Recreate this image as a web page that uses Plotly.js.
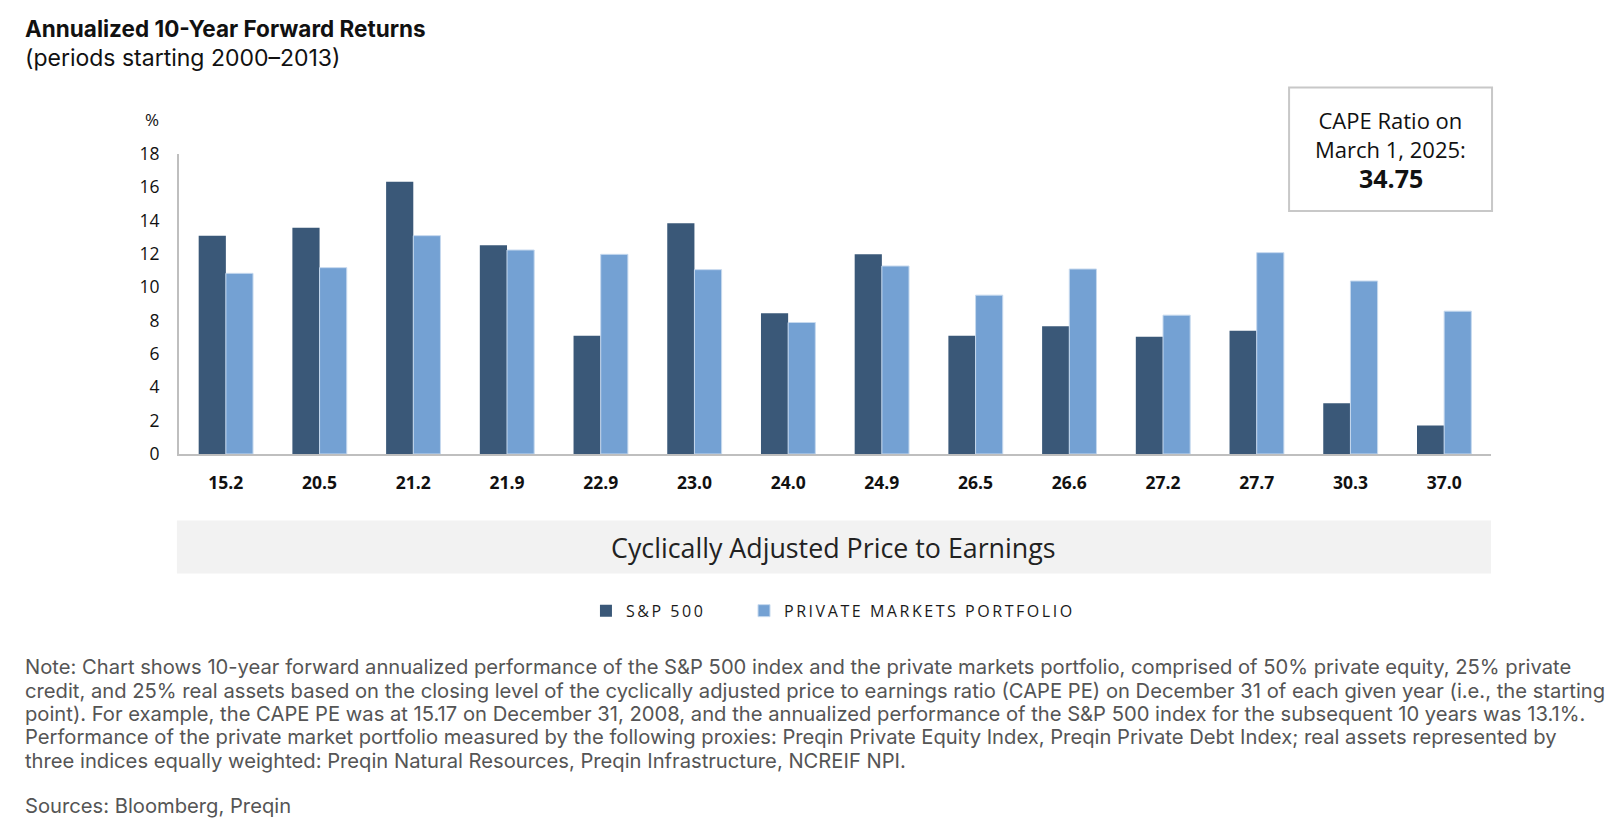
<!DOCTYPE html>
<html>
<head>
<meta charset="utf-8">
<script src="https://cdn.plot.ly/plotly-3.0.1.min.js"></script>
<style>
  body { margin: 0; background: #fff; }
  #chart { width: 1624px; height: 825px; }
  .legendtext { letter-spacing: 2.55px; }
</style>
</head>
<body>
<div id="chart"></div>
<script>
// CAPE level at start of each 10-year period
const capeLabels = ["15.2", "20.5", "21.2", "21.9", "22.9", "23.0", "24.0",
                    "24.9", "26.5", "26.6", "27.2", "27.7", "30.3", "37.0"];

// annualized 10-year forward returns, %
const sp500 = [13.1, 13.57, 16.34, 12.52, 7.1, 13.85, 8.45,
               11.98, 7.1, 7.67, 7.04, 7.39, 3.05, 1.71];
const privateMarkets = [10.84, 11.18, 13.1, 12.24, 11.98, 11.06, 7.89,
                        11.28, 9.53, 11.1, 8.33, 12.08, 10.38, 8.57];

const seriesNames = ["S&P 500", "PRIVATE MARKETS PORTFOLIO"];
const yTicks = [0, 2, 4, 6, 8, 10, 12, 14, 16, 18];

const noteLines = [
  "Note: Chart shows 10-year forward annualized performance of the S&P 500 index and the private markets portfolio, comprised of 50% private equity, 25% private",
  "credit, and 25% real assets based on the closing level of the cyclically adjusted price to earnings ratio (CAPE PE) on December 31 of each given year (i.e., the starting",
  "point). For example, the CAPE PE was at 15.17 on December 31, 2008, and the annualized performance of the S&P 500 index for the subsequent 10 years was 13.1%.",
  "Performance of the private market portfolio measured by the following proxies: Preqin Private Equity Index, Preqin Private Debt Index; real assets represented by",
  "three indices equally weighted: Preqin Natural Resources, Preqin Infrastructure, NCREIF NPI."
];
const sourcesLine = "Sources: Bloomberg, Preqin";

/* ---- layout frame: positions measured on a 1568-wide copy, scaled up ---- */
const W = 1624, H = 825;
const S = W / 1568;
const L = 173, R = 1440, T = 149, B = 438;   // plot box in measured units
const px = x => (x - L) / (R - L);
const py = y => (B - y) / (B - T);

const chartFont = "'Open Sans', 'Noto Sans', sans-serif";
const textFont = "Inter, 'Noto Sans', sans-serif";

// wider gap between the two legend entries
const legendPad = "\u00a0".repeat(5);

const traces = [
  {
    type: "bar",
    name: seriesNames[0] + legendPad,
    x: capeLabels,
    y: sp500,
    marker: { color: "#3a5878" },
    hovertemplate: "%{x}: %{y:.1f}%<extra>" + seriesNames[0] + "</extra>"
  },
  {
    type: "bar",
    name: seriesNames[1],
    x: capeLabels,
    y: privateMarkets,
    marker: { color: "#74a1d3", line: { color: "#c6d9ee", width: 1 } },
    hovertemplate: "%{x}: %{y:.1f}%<extra>" + seriesNames[1] + "</extra>"
  }
];

const noteAnnotations = noteLines.map((line, i) => ({
  text: line,
  xref: "paper", yref: "paper", x: px(22), y: py(643 + i * 22.5),
  xanchor: "left", yanchor: "middle", showarrow: false,
  font: { family: textFont, size: 20.2, color: "#555" }
}));

const layout = {
  width: W,
  height: H,
  autosize: false,
  paper_bgcolor: "#ffffff",
  plot_bgcolor: "#ffffff",
  margin: { l: L * S, r: W - R * S, t: T * S, b: H - B * S, pad: 0 },
  barmode: "group",
  bargap: 0.42,
  bargroupgap: 0,
  showlegend: true,
  font: { family: chartFont, color: "#1a1a1a" },
  xaxis: {
    type: "category",
    showline: true,
    linecolor: "#bfbfbf",
    linewidth: 2,
    ticks: "",
    ticklabelstandoff: 12,
    tickfont: { family: chartFont, size: 17.5, color: "#111", weight: "bold" },
    showgrid: false,
    zeroline: false,
    fixedrange: true
  },
  yaxis: {
    range: [0, 18],
    tickvals: yTicks,
    showline: true,
    linecolor: "#bfbfbf",
    linewidth: 2,
    ticks: "",
    ticklabelstandoff: 14,
    tickfont: { family: chartFont, size: 17.5, color: "#111" },
    showgrid: false,
    zeroline: false,
    fixedrange: true
  },
  legend: {
    orientation: "h",
    x: px(566), xanchor: "left",
    y: py(589), yanchor: "middle",
    font: { family: chartFont, size: 16, color: "#1a1a1a" },
    traceorder: "normal",
    itemclick: false,
    itemdoubleclick: false
  },
  shapes: [
    // grey band behind the x-axis title
    {
      type: "rect", xref: "paper", yref: "paper",
      x0: px(171), x1: px(1440), y0: py(553), y1: py(502),
      fillcolor: "#f2f2f2", line: { width: 0 }, layer: "below"
    },
    // CAPE callout box
    {
      type: "rect", xref: "paper", yref: "paper",
      x0: px(1245), x1: px(1441), y0: py(204), y1: py(85),
      fillcolor: "rgba(0,0,0,0)", line: { color: "#c8c8c8", width: 2 }
    }
  ],
  annotations: [
    {
      text: "<b>Annualized 10-Year Forward Returns</b>",
      xref: "paper", yref: "paper", x: px(22), y: py(28),
      xanchor: "left", yanchor: "middle", showarrow: false,
      font: { family: textFont, size: 22.5, color: "#111" }
    },
    {
      text: "(periods starting 2000–2013)",
      xref: "paper", yref: "paper", x: px(22), y: py(57),
      xanchor: "left", yanchor: "middle", showarrow: false,
      font: { family: textFont, size: 23, color: "#111" }
    },
    {
      text: "%",
      xref: "paper", yref: "paper", x: px(147), y: py(116),
      xanchor: "center", yanchor: "middle", showarrow: false,
      font: { family: chartFont, size: 17, color: "#111" }
    },
    {
      text: "Cyclically Adjusted Price to Earnings",
      xref: "paper", yref: "paper", x: px(805), y: py(528),
      xanchor: "center", yanchor: "middle", showarrow: false,
      font: { family: chartFont, size: 26.8, color: "#222" }
    },
    {
      text: "CAPE Ratio on<br>March 1, 2025:",
      xref: "paper", yref: "paper", x: px(1343), y: py(130),
      xanchor: "center", yanchor: "middle", showarrow: false,
      align: "center",
      font: { family: chartFont, size: 22, color: "#111" }
    },
    {
      text: "<b>34.75</b>",
      xref: "paper", yref: "paper", x: px(1343), y: py(172),
      xanchor: "center", yanchor: "middle", showarrow: false,
      font: { family: chartFont, size: 25, color: "#111" }
    },
    ...noteAnnotations,
    {
      text: sourcesLine,
      xref: "paper", yref: "paper", x: px(22), y: py(777),
      xanchor: "left", yanchor: "middle", showarrow: false,
      font: { family: textFont, size: 20.2, color: "#555" }
    }
  ]
};

Plotly.newPlot("chart", traces, layout, { displayModeBar: false, responsive: false });
</script>
</body>
</html>
